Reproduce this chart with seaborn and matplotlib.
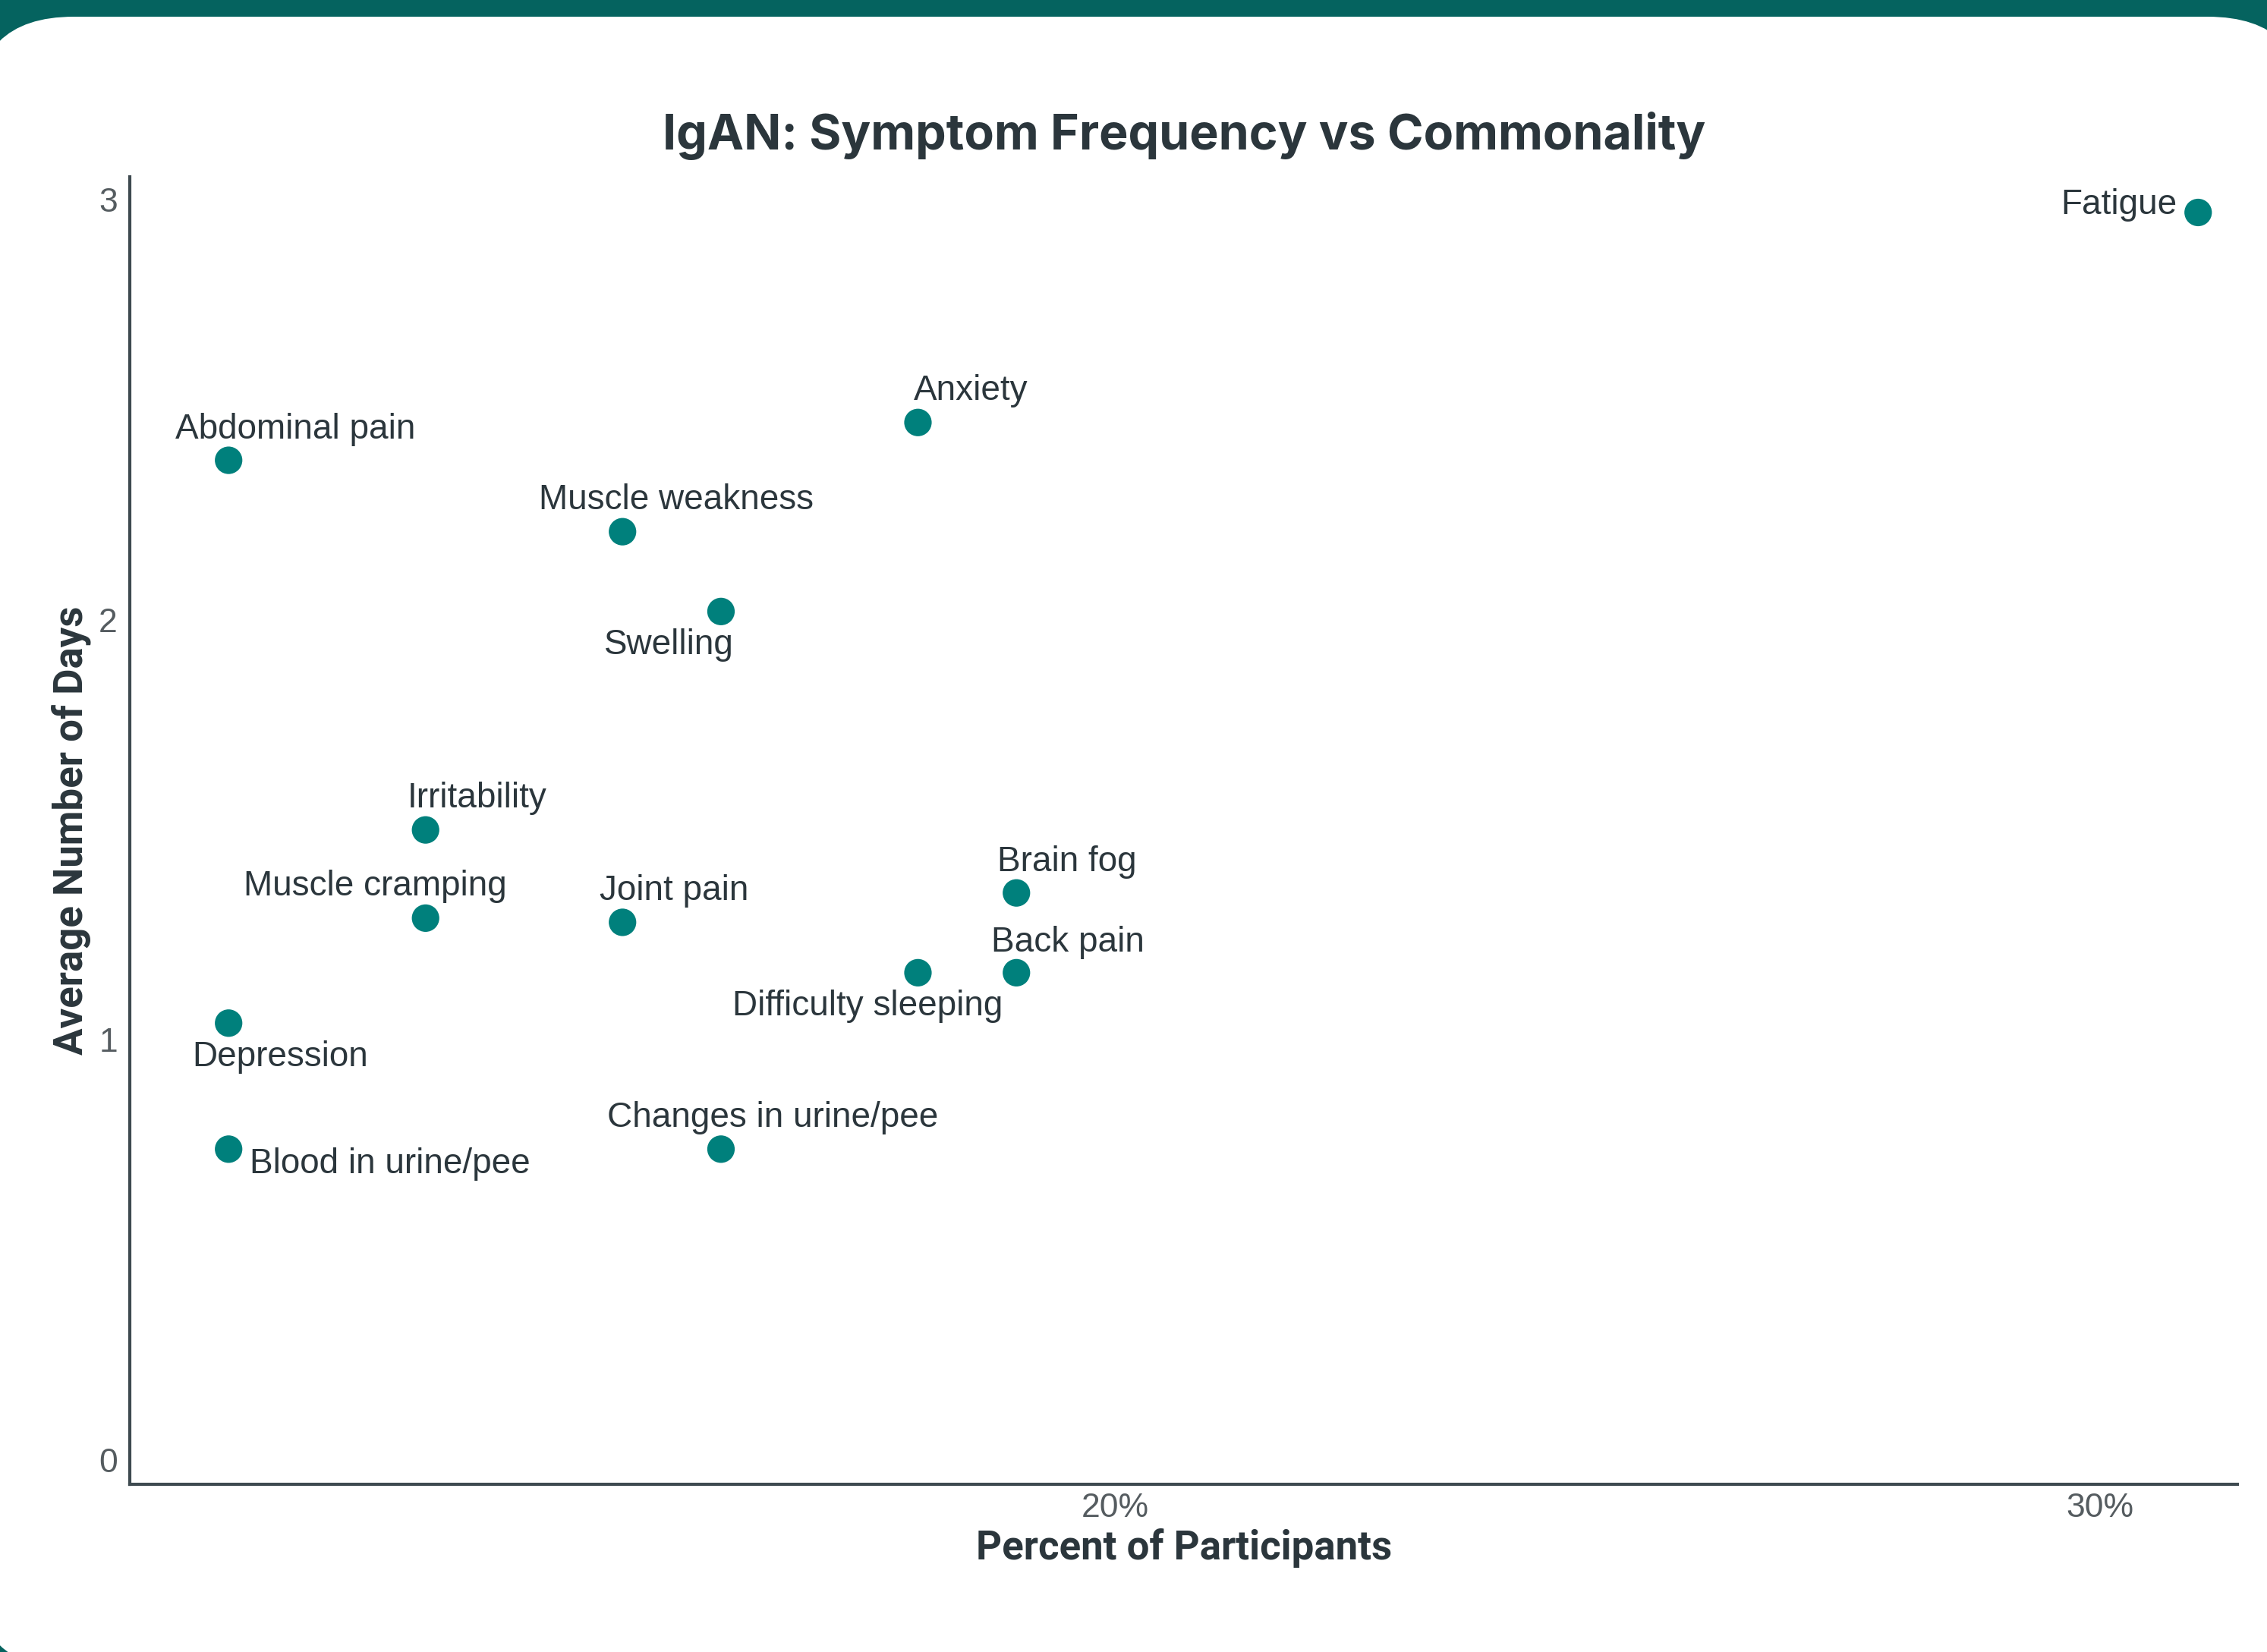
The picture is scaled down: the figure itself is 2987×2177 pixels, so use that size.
#!/usr/bin/env python3
"""
IgAN symptom frequency vs commonality scatter
"""

import matplotlib.pyplot as plt
import seaborn as sns
import pandas as pd
from matplotlib.patches import FancyBboxPatch
from matplotlib.ticker import FuncFormatter

# data
symptoms = ['Fatigue', 'Anxiety', 'Abdominal pain', 'Muscle weakness', 'Swelling',
            'Irritability', 'Muscle cramping', 'Joint pain', 'Brain fog',
            'Difficulty sleeping', 'Back pain', 'Depression',
            'Blood in urine/pee', 'Changes in urine/pee']
pct_participants = [31.0, 18.0, 11.0, 15.0, 16.0, 13.0, 13.0, 15.0, 19.0,
                    18.0, 19.0, 11.0, 11.0, 16.0]
avg_days = [2.97, 2.47, 2.38, 2.21, 2.02, 1.50, 1.29, 1.28, 1.35,
            1.16, 1.16, 1.04, 0.74, 0.74]
x_ticks = [20, 30]
y_ticks = [0, 1, 2, 3]

# label placement (offset in points, horizontal alignment)
label_pos = {
    'Fatigue': (-20, 7, 'right'),
    'Anxiety': (50, 30, 'center'),
    'Abdominal pain': (63, 29, 'center'),
    'Muscle weakness': (51, 30, 'center'),
    'Swelling': (-49, -32, 'center'),
    'Irritability': (49, 30, 'center'),
    'Muscle cramping': (-48, 30, 'center'),
    'Joint pain': (49, 30, 'center'),
    'Brain fog': (48, 29, 'center'),
    'Difficulty sleeping': (-48, -32, 'center'),
    'Back pain': (49, 29, 'center'),
    'Depression': (49, -32, 'center'),
    'Blood in urine/pee': (20, -14, 'left'),
    'Changes in urine/pee': (49, 30, 'center'),
}

TEAL_BG = '#05635f'
TEAL = '#00807c'
TEXT = '#2b363c'
TICK = '#555c60'
SPINE = '#3e4a50'

df = pd.DataFrame({'symptom': symptoms, 'pct': pct_participants, 'days': avg_days})

sns.set_style('white')
plt.rcParams['font.family'] = ['Liberation Sans', 'DejaVu Sans']

fig = plt.figure(figsize=(29.87, 21.77), dpi=100)
fig.patch.set_facecolor(TEAL_BG)

# white rounded card (pixel coordinates), drawn below the axes
card = FancyBboxPatch((-34, -23), 3074, 2178,
                      boxstyle='round,pad=0,rounding_size=131',
                      facecolor='white', edgecolor='none', transform=None, zorder=-5)
fig.patches.append(card)

ax = fig.add_axes([0.0574, 0.1015, 0.9296, 0.7915])
ax.set_facecolor('white')

sns.scatterplot(data=df, x='pct', y='days', ax=ax, s=680, color=TEAL,
                edgecolor='none', linewidth=0, zorder=3)

for name, x, y in zip(symptoms, pct_participants, avg_days):
    dx, dy, ha = label_pos[name]
    ax.annotate(name, (x, y), xytext=(dx, dy), textcoords='offset points',
                ha=ha, va='center', fontsize=33, color=TEXT, zorder=4)

ax.set_xlim(10.0, 31.4)
ax.set_ylim(-0.058, 3.055)
ax.set_xticks(x_ticks)
ax.set_yticks(y_ticks)
ax.xaxis.set_major_formatter(FuncFormatter(lambda v, p: f'{v:.0f}%'))
ax.tick_params(axis='both', length=0, labelsize=32, labelcolor=TICK)
ax.tick_params(axis='x', pad=8)
ax.tick_params(axis='y', pad=12)

for side in ['top', 'right']:
    ax.spines[side].set_visible(False)
for side in ['left', 'bottom']:
    ax.spines[side].set_color(SPINE)
    ax.spines[side].set_linewidth(3)

ax.set_xlabel('Percent of Participants', fontsize=38, fontweight='bold',
              color=TEXT, family=['Roboto', 'DejaVu Sans'], labelpad=4)
ax.set_ylabel('Average Number of Days', fontsize=38, fontweight='bold',
              color=TEXT, family=['Roboto', 'DejaVu Sans'], labelpad=7)
ax.set_title('IgAN: Symptom Frequency vs Commonality', fontsize=46.5,
             fontweight='bold', color=TEXT, family=['Inter', 'DejaVu Sans'], pad=26)

plt.savefig('out.png', dpi=100, facecolor=fig.get_facecolor())
plt.close()
